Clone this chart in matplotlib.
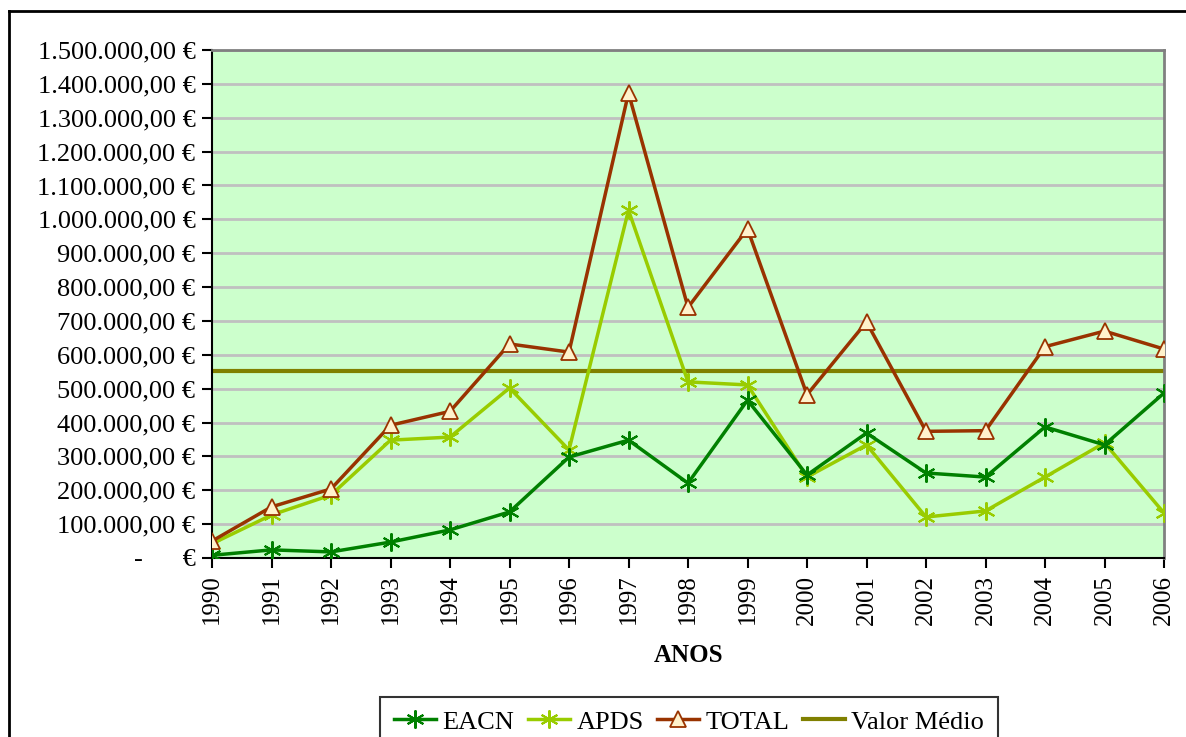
import matplotlib
matplotlib.use("Agg")
import matplotlib.pyplot as plt
from matplotlib.lines import Line2D
from matplotlib.ticker import FuncFormatter, MultipleLocator

plt.rcParams['font.family'] = ['Liberation Serif', 'DejaVu Serif']

anos = [1990, 1991, 1992, 1993, 1994, 1995, 1996, 1997, 1998, 1999,
        2000, 2001, 2002, 2003, 2004, 2005, 2006]
eacn = [8000, 24000, 18000, 47000, 83000, 136000, 298000, 348000, 221000, 466000,
        245000, 369000, 251000, 239000, 387000, 334000, 487000]
apds = [42000, 127000, 186000, 348000, 357000, 502000, 319000, 1027000, 520000, 511000,
        239000, 334000, 121000, 139000, 239000, 340000, 133000]
total = [50000, 151000, 204000, 392000, 433000, 632000, 608000, 1373000, 740000, 972000,
         482000, 697000, 374000, 376000, 624000, 670000, 617000]
valor_medio = 552000


def euro(v, pos):
    if abs(v) < 1:
        return "-      €"
    s = "{:,.2f}".format(v)
    s = s.replace(",", "X").replace(".", ",").replace("X", ".")
    return s + " €"


fig = plt.figure(figsize=(11.86, 7.37), dpi=100)
ax = fig.add_axes([212/1186, 1-558/737, (1164-212)/1186, (558-50)/737])
ax.set_facecolor('#CCFFCC')

ax.plot(anos, eacn, color='#008000', lw=2.5, marker=(6, 2, 0), ms=13,
        mew=1.5, label='EACN', zorder=4)
ax.plot(anos, apds, color='#99CC00', lw=2.5, marker=(6, 2, 0), ms=13,
        mew=1.5, label='APDS', zorder=3)
ax.plot(anos, total, color='#993300', lw=2.5, marker='^', ms=12,
        mfc='#FFF2CC', mec='#993300', mew=1.3, label='TOTAL', zorder=5)
ax.plot([anos[0], anos[-1]], [valor_medio, valor_medio], color='#808000',
        lw=3, label='Valor Médio', zorder=2)

ax.set_xlim(anos[0], anos[-1])
ax.set_ylim(0, 1500000)
ax.yaxis.set_major_locator(MultipleLocator(100000))
ax.yaxis.set_major_formatter(FuncFormatter(euro))
ax.set_xticks(anos)
ax.set_xticklabels([str(a) for a in anos], rotation=90)
ax.grid(axis='y', color='#C0C0C0', lw=2)
ax.set_axisbelow(True)
ax.tick_params(axis='y', labelsize=19, length=7, width=1.5, direction='out', pad=5)
ax.tick_params(axis='x', labelsize=18, length=7, width=1.5, direction='out', pad=5)

for s in ['top', 'right']:
    ax.spines[s].set_color('#808080')
    ax.spines[s].set_linewidth(2)
for s in ['left', 'bottom']:
    ax.spines[s].set_color('black')
    ax.spines[s].set_linewidth(1.5)

fig.text(689/1186, 1-656/737, 'ANOS', ha='center', va='center',
         fontsize=18, fontweight='bold')

# moldura exterior
fig.add_artist(Line2D([9/1186, 1], [1-11/737, 1-11/737], color='black', lw=2))
fig.add_artist(Line2D([9/1186, 9/1186], [0, 1-11/737], color='black', lw=2))

leg = fig.legend(loc='upper center', bbox_to_anchor=(689/1186, 1-697/737),
                 ncol=4, fontsize=19, frameon=True, fancybox=False,
                 edgecolor='black', handlelength=1.6, columnspacing=0.5,
                 handletextpad=0.25, borderpad=0.5, borderaxespad=0)
leg.get_frame().set_linewidth(1.5)

fig.savefig('out.png', dpi=100)
